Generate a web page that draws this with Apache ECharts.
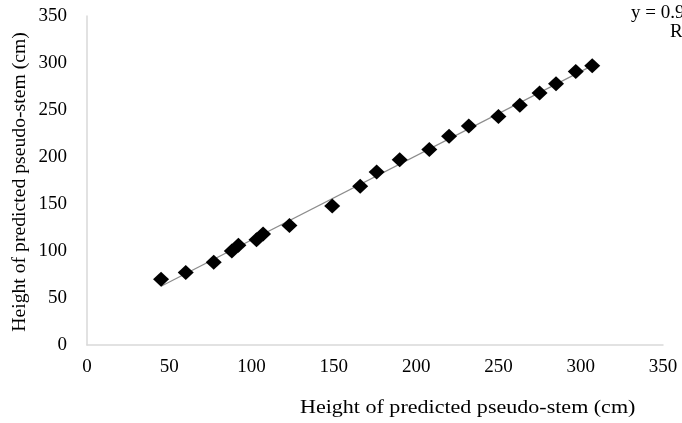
<!DOCTYPE html>
<html>
<head>
<meta charset="utf-8">
<script src="https://cdn.jsdelivr.net/npm/echarts@6/dist/echarts.min.js"></script>
<style>
  html, body { margin: 0; padding: 0; background: #fff; }
  #chart { width: 682px; height: 423px; }
</style>
</head>
<body>
<div id="chart"></div>
<script>
// Measured vs predicted pseudo-stem height (cm)
const observedHeight = [45, 60, 77, 88, 92, 103, 107, 123, 149, 166, 176, 190, 208, 220, 232, 250, 263, 275, 285, 297, 307];
const predictedHeight = [70, 77, 88, 100, 106, 112, 118, 127, 148, 169, 184, 197, 208, 222, 233, 243, 255, 268, 278, 291, 297];
const axisTicks = [0, 50, 100, 150, 200, 250, 300, 350];
const equationLines = ['y = 0.9058x + 22.8', 'R² = 0.9957'];
const xTitle = 'Height of predicted pseudo-stem (cm)';
const yTitle = 'Height of predicted pseudo-stem (cm)';

const points = observedHeight.map((x, i) => [x, predictedHeight[i]]);

// Least-squares linear trendline over the data range
const n = points.length;
const mx = observedHeight.reduce((a, b) => a + b, 0) / n;
const my = predictedHeight.reduce((a, b) => a + b, 0) / n;
let sxy = 0, sxx = 0;
points.forEach(([x, y]) => { sxy += (x - mx) * (y - my); sxx += (x - mx) * (x - mx); });
const slope = sxy / sxx;
const intercept = my - slope * mx;
const xMin = Math.min(...observedHeight), xMax = Math.max(...observedHeight);
const trend = [[xMin, slope * xMin + intercept], [xMax, slope * xMax + intercept]];

const FONT = 'Liberation Serif';
const chart = echarts.init(document.getElementById('chart'), null, { renderer: 'canvas' });
chart.setOption({
  animation: false,
  backgroundColor: '#ffffff',
  grid: { left: 87, right: 19, top: 16, bottom: 78, containLabel: false },
  xAxis: {
    type: 'value', min: axisTicks[0], max: axisTicks[axisTicks.length - 1], interval: 50,
    axisLine: { show: true, lineStyle: { color: '#d9d9d9', width: 1.5 } },
    axisTick: { show: false },
    splitLine: { show: false },
    axisLabel: { fontFamily: FONT, fontSize: 19, color: '#000', margin: 13 }
  },
  yAxis: {
    type: 'value', min: axisTicks[0], max: axisTicks[axisTicks.length - 1], interval: 50,
    axisLine: { show: true, lineStyle: { color: '#d9d9d9', width: 1.5 } },
    axisTick: { show: false },
    splitLine: { show: false },
    axisLabel: { fontFamily: FONT, fontSize: 19, color: '#000', margin: 20 }
  },
  series: [
    {
      type: 'line', data: trend, showSymbol: false, z: 1,
      lineStyle: { color: '#8c8c8c', width: 1.2 }
    },
    {
      type: 'scatter', data: points, symbol: 'diamond', symbolSize: [16, 15], z: 2,
      itemStyle: { color: '#000000', opacity: 1 }
    }
  ],
  graphic: [
    {
      type: 'text', x: 300, y: 399, scaleX: 1.16,
      style: { text: xTitle, fontFamily: FONT, fontSize: 19, fill: '#000' }
    },
    {
      type: 'text', x: 20, y: 182, rotation: Math.PI / 2,
      style: { text: yTitle, fontFamily: FONT, fontSize: 19.7, fill: '#000', align: 'center', verticalAlign: 'middle' }
    },
    {
      type: 'text', x: 631, y: 4,
      style: { text: equationLines[0], fontFamily: FONT, fontSize: 19, fill: '#000' }
    },
    {
      type: 'text', x: 670, y: 23,
      style: { text: equationLines[1], fontFamily: FONT, fontSize: 19, fill: '#000' }
    }
  ]
});
</script>
</body>
</html>
